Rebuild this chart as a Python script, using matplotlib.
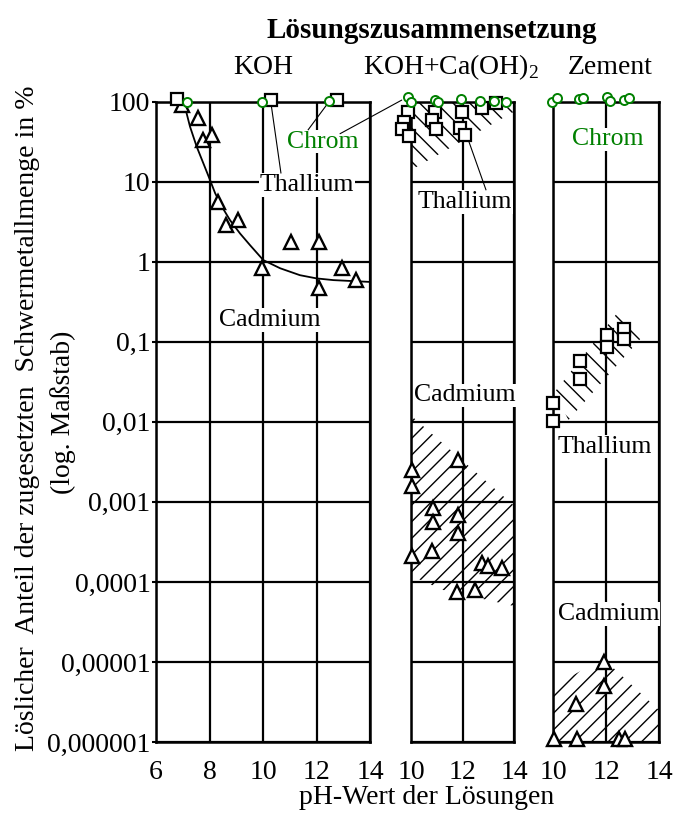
import matplotlib
matplotlib.use('Agg')
import matplotlib.pyplot as plt
from matplotlib.patches import ConnectionPatch

plt.rcParams['font.family'] = ['Liberation Serif', 'DejaVu Serif']
plt.rcParams['mathtext.fontset'] = 'custom'
plt.rcParams['mathtext.rm'] = 'Liberation Serif'
plt.rcParams['hatch.linewidth'] = 1.0

# --- Daten ---
y_ticks = [100, 10, 1, 0.1, 0.01, 0.001, 0.0001, 0.00001, 0.000001]
y_tick_labels = ['100', '10', '1', '0,1', '0,01', '0,001', '0,0001', '0,00001', '0,000001']
panel_titles = ['KOH', 'KOH+Ca(OH)$_2$', 'Zement']
koh_x_ticks = [6, 8, 10, 12, 14]
other_x_ticks = [10, 12, 14]

# KOH
koh_tl_ph = [6.77, 10.29, 12.77]
koh_tl_val = [108, 105, 106]
koh_cr_ph = [7.17, 9.97, 12.48]
koh_cr_val = [100, 100, 102]
koh_cd_ph = [6.96, 7.56, 7.77, 8.1, 8.33, 8.62, 9.05, 9.97, 11.03, 12.09, 12.09, 12.96, 13.46]
koh_cd_val = [91, 62, 33, 38, 5.6, 2.9, 3.3, 0.83, 1.78, 1.78, 0.47, 0.83, 0.59]
koh_fit_ph = [7.0, 7.08, 7.27, 7.52, 7.77, 8.02, 8.21, 8.46, 8.77, 9.14, 9.51, 10.01,
              10.64, 11.38, 12.0, 12.63, 14.0]
koh_fit_val = [100, 87, 49, 27.5, 17, 10.5, 7.2, 4.9, 3.3, 2.26, 1.62, 1.05,
               0.83, 0.68, 0.62, 0.59, 0.56]

# KOH + Ca(OH)2
ca_cr_ph = [9.9, 10.0, 10.94, 11.03, 11.94, 12.67, 13.23, 13.69]
ca_cr_val = [115, 100, 105, 100, 107, 102, 102, 100]
ca_tl_ph = [9.87, 9.73, 9.64, 9.92, 10.93, 10.83, 10.96, 11.97, 11.9, 12.09, 12.76, 13.32]
ca_tl_val = [74, 56, 46, 37, 75, 59, 46, 75, 47, 38, 83, 97]
ca_cd_ph = [10.03, 10.03, 11.83, 10.86, 10.86, 11.83, 11.83, 10.03, 10.8,
            12.74, 13.0, 13.52, 11.8, 12.5]
ca_cd_val = [0.0025, 0.0016, 0.0033, 0.00083, 0.00056, 0.00068, 0.00041, 0.00021,
             0.00024, 0.00017, 0.00016, 0.00015, 0.000075, 0.000079]
ca_tl_area_ph = [10.0, 14.0, 14.0, 10.0]
ca_tl_area_val = [100, 100, 75, 14]
ca_cd_area_ph = [10.0, 14.0, 14.0, 11.2, 10.0]
ca_cd_area_val = [0.012, 0.0009, 0.00005, 0.00008, 0.00012]

# Zement
zem_cr_ph = [9.95, 10.14, 10.99, 11.12, 12.03, 12.15, 12.69, 12.88]
zem_cr_val = [100, 110, 107, 110, 115, 102, 104, 112]
zem_tl_ph = [10.0, 10.0, 11.02, 11.02, 12.05, 12.05, 12.69, 12.69]
zem_tl_val = [0.017, 0.0103, 0.058, 0.034, 0.12, 0.087, 0.144, 0.107]
zem_cd_ph = [11.92, 11.92, 10.86, 10.04, 10.9, 12.5, 12.72]
zem_cd_val = [1.0e-5, 5.0e-6, 3.0e-6, 1.1e-6, 1.1e-6, 1.1e-6, 1.1e-6]
zem_tl_area_ph = [10.08, 12.47, 13.41, 10.58]
zem_tl_area_val = [0.024, 0.24, 0.12, 0.0105]
zem_cd_area_ph = [10.0, 10.0, 11.9, 14.0, 14.0]
zem_cd_area_val = [1e-6, 5e-6, 1.1e-5, 2.5e-6, 1e-6]

GREEN = '#008000'
FS = 20
LBL = 18.5
bbox_w = dict(facecolor='white', edgecolor='none', pad=0.5)


def setup_axis(ax, xlim, xticks, show_y):
    ax.set_yscale('log')
    ax.set_xlim(*xlim)
    ax.set_ylim(1e-6, 100)
    ax.set_xticks(xticks)
    ax.set_xticklabels([str(t) for t in xticks], fontsize=FS)
    ax.set_yticks(y_ticks)
    ax.minorticks_off()
    if show_y:
        ax.set_yticklabels(y_tick_labels, fontsize=FS)
        ax.tick_params(axis='y', length=3, width=1.5, pad=1)
    else:
        ax.set_yticklabels([])
        ax.tick_params(axis='y', length=0)
    ax.tick_params(axis='x', length=0, pad=13)
    ax.grid(True, color='black', linewidth=1.6)
    for s in ax.spines.values():
        s.set_linewidth(1.8)


def squares(ax, x, y):
    ax.plot(x, y, 's', ms=8.5, mfc='white', mec='black', mew=1.6, ls='none',
            clip_on=False, zorder=5)


def triangles(ax, x, y):
    ax.plot(x, y, '^', ms=9.5, mfc='white', mec='black', mew=1.7, ls='none',
            clip_on=False, zorder=5)


def circles(ax, x, y):
    ax.plot(x, y, 'o', ms=6.5, mfc='white', mec=GREEN, mew=1.4, ls='none',
            clip_on=False, zorder=6)


fig = plt.figure(figsize=(6.76, 8.26), dpi=100)
b, h = 84 / 826, 640.3 / 826
ax1 = fig.add_axes([156 / 676, b, 214 / 676, h])
ax2 = fig.add_axes([411 / 676, b, 103 / 676, h])
ax3 = fig.add_axes([553 / 676, b, 106 / 676, h])

setup_axis(ax1, (6, 14), koh_x_ticks, True)
setup_axis(ax2, (10, 14), other_x_ticks, False)
setup_axis(ax3, (10, 14), other_x_ticks, False)

# KOH
ax1.plot(koh_fit_ph, koh_fit_val, color='black', lw=1.3, zorder=4)
triangles(ax1, koh_cd_ph, koh_cd_val)
squares(ax1, koh_tl_ph, koh_tl_val)
circles(ax1, koh_cr_ph, koh_cr_val)
ax1.text(11.63, 10 ** 0.96, 'Thallium', fontsize=LBL, ha='center', va='center',
         bbox=bbox_w, zorder=3)
ax1.text(12.22, 10 ** 1.5, 'Chrom', fontsize=LBL, color=GREEN, ha='center',
         va='center', bbox=bbox_w, zorder=3)
ax1.text(10.24, 10 ** -0.73, 'Cadmium', fontsize=LBL, ha='center', va='center',
         bbox=bbox_w, zorder=3)
ax1.plot([10.29, 10.67], [100, 10 ** 1.11], color='black', lw=0.8, zorder=4)
ax1.plot([11.69, 12.38], [10 ** 1.65, 10 ** 1.96], color='black', lw=0.8, zorder=4)

# KOH + Ca(OH)2
ax2.fill(ca_tl_area_ph, ca_tl_area_val, facecolor='none', edgecolor='black',
         hatch='\\\\', lw=0, zorder=2)
ax2.fill(ca_cd_area_ph, ca_cd_area_val, facecolor='none', edgecolor='black',
         hatch='//', lw=0, zorder=2)
squares(ax2, ca_tl_ph, ca_tl_val)
circles(ax2, ca_cr_ph, ca_cr_val)
triangles(ax2, ca_cd_ph, ca_cd_val)
ax2.text(12.09, 10 ** 0.75, 'Thallium', fontsize=LBL, ha='center', va='center',
         bbox=bbox_w, zorder=3, clip_on=False)
ax2.text(12.09, 10 ** -1.67, 'Cadmium', fontsize=LBL, ha='center', va='center',
         bbox=bbox_w, zorder=3, clip_on=False)
ax2.plot([12.25, 12.91], [10 ** 1.5, 10 ** 0.9], color='black', lw=0.8, zorder=4)

# Zement
ax3.fill(zem_tl_area_ph, zem_tl_area_val, facecolor='none', edgecolor='black',
         hatch='\\\\', lw=0, zorder=2)
ax3.fill(zem_cd_area_ph, zem_cd_area_val, facecolor='none', edgecolor='black',
         hatch='//', lw=0, zorder=2)
squares(ax3, zem_tl_ph, zem_tl_val)
circles(ax3, zem_cr_ph, zem_cr_val)
triangles(ax3, zem_cd_ph, zem_cd_val)
ax3.text(12.05, 10 ** 1.53, 'Chrom', fontsize=LBL, color=GREEN, ha='center',
         va='center', bbox=bbox_w, zorder=3)
ax3.text(11.96, 10 ** -2.31, 'Thallium', fontsize=LBL, ha='center', va='center',
         bbox=bbox_w, zorder=3, clip_on=False)
ax3.text(12.09, 10 ** -4.4, 'Cadmium', fontsize=LBL, ha='center', va='center',
         bbox=bbox_w, zorder=3, clip_on=False)

# Chrom-Linie von Feld 1 nach Feld 2
con = ConnectionPatch(xyA=(12.88, 10 ** 1.6), coordsA=ax1.transData,
                      xyB=(9.64, 10 ** 2.02), coordsB=ax2.transData,
                      color='black', lw=0.8)
fig.add_artist(con)

# Beschriftungen
fig.text(432 / 676, 1 - 30 / 826, 'Lösungszusammensetzung', fontsize=21,
         fontweight='bold', ha='center', va='center')
for xc, t in zip([263, 451, 610], panel_titles):
    fig.text(xc / 676, 1 - 67 / 826, t, fontsize=FS, ha='center', va='center')
fig.text(427 / 676, 1 - 797 / 826, 'pH-Wert der Lösungen', fontsize=FS,
         ha='center', va='center')
fig.text(28 / 676, 1 - 418 / 826,
         'Löslicher  Anteil der zugesetzten  Schwermetallmenge in %',
         fontsize=FS, rotation=90, ha='center', va='center')
fig.text(63 / 676, 1 - 412 / 826, '(log. Maßstab)', fontsize=FS, rotation=90,
         ha='center', va='center')

fig.savefig('out.png', dpi=100)
